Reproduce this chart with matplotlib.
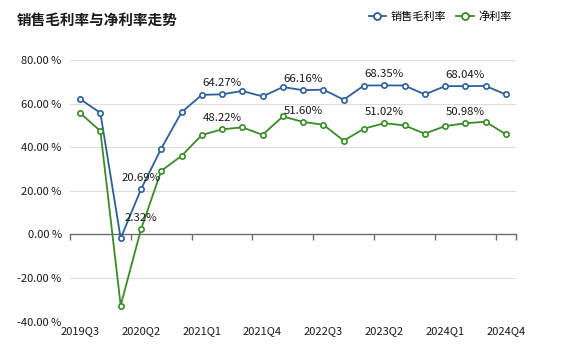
import matplotlib
matplotlib.use("Agg")
import matplotlib.pyplot as plt
from matplotlib.lines import Line2D

plt.rcParams['font.family'] = ['Noto Sans CJK SC', 'DejaVu Sans']

quarters = ['2019Q3', '2019Q4', '2020Q1', '2020Q2', '2020Q3', '2020Q4',
            '2021Q1', '2021Q2', '2021Q3', '2021Q4', '2022Q1', '2022Q2',
            '2022Q3', '2022Q4', '2023Q1', '2023Q2', '2023Q3', '2023Q4',
            '2024Q1', '2024Q2', '2024Q3', '2024Q4']
gross_margin = [62.1, 55.7, -1.8, 20.69, 39.4, 56.0, 64.0, 64.27, 65.8, 63.3, 67.6,
                66.16, 66.4, 61.8, 68.3, 68.35, 68.3, 64.2, 68.0, 68.04, 68.1, 64.2]
net_margin = [55.7, 47.4, -32.6, 2.32, 29.2, 36.0, 45.6, 48.22, 49.1, 45.7, 54.1,
              51.60, 50.3, 43.0, 48.5, 51.02, 50.0, 46.2, 49.7, 50.98, 51.7, 45.9]
label_idx = [3, 7, 11, 15, 19]
tick_idx = [0, 3, 6, 9, 12, 15, 18, 21]
y_ticks = [-40, -20, 0, 20, 40, 60, 80]

blue = '#2d5f9b'
green = '#3a8b27'

fig = plt.figure(figsize=(5.85, 3.63), dpi=100)
ax = fig.add_axes([70/585, 1 - 321.7/363, (516 - 70)/585, (321.7 - 60)/363])

x = list(range(len(quarters)))
ax.plot(x, gross_margin, color=blue, lw=1.3, marker='o', ms=3.8,
        mfc='white', mec=blue, mew=1.2, zorder=3)
ax.plot(x, net_margin, color=green, lw=1.3, marker='o', ms=3.8,
        mfc='white', mec=green, mew=1.2, zorder=3)

for i in label_idx:
    for series in (gross_margin, net_margin):
        ax.annotate(f'{series[i]:.2f}%', (i, series[i]), xytext=(0, 4.5),
                    textcoords='offset points', ha='center', va='bottom',
                    fontsize=8.2, color='#1a1a1a', zorder=4)

ax.set_xlim(-0.5, len(quarters) - 0.5)
ax.set_ylim(-40, 80)

for v in y_ticks:
    if v != 0:
        ax.axhline(v, color='#dcdcdc', lw=0.8, zorder=1)

for s in ['top', 'right', 'left']:
    ax.spines[s].set_visible(False)
ax.spines['bottom'].set_position(('data', 0))
ax.spines['bottom'].set_color('#6e6e6e')
ax.spines['bottom'].set_linewidth(1.0)
ax.spines['bottom'].set_zorder(2)

ax.set_xticks([t - 0.5 for t in tick_idx] + [len(quarters) - 0.5])
ax.set_xticklabels([])
ax.tick_params(axis='x', length=4, width=1, color='#6e6e6e', direction='out')

ax.set_yticks(y_ticks)
ax.set_yticklabels([f'{v:.2f} %' for v in y_ticks])
ax.tick_params(axis='y', length=0, pad=6, labelsize=8, labelcolor='#1a1a1a')

sec = ax.secondary_xaxis('bottom')
sec.spines['bottom'].set_visible(False)
sec.set_xticks(tick_idx)
sec.set_xticklabels([quarters[i] for i in tick_idx])
sec.tick_params(length=0, pad=3, labelsize=8, labelcolor='#1a1a1a')

fig.text(17/585, 1 - 20/363, '销售毛利率与净利率走势', fontsize=10.5,
         fontweight='bold', color='#1a1a1a', va='center', ha='left')

handles = [Line2D([], [], color=blue, lw=1.3, marker='o', ms=5, mfc='white', mec=blue, mew=1.3),
           Line2D([], [], color=green, lw=1.3, marker='o', ms=5, mfc='white', mec=green, mew=1.3)]
fig.legend(handles, ['销售毛利率', '净利率'], loc='center right',
           bbox_to_anchor=(512/585, 1 - 17/363), ncol=2, frameon=False,
           fontsize=8, handlelength=1.6, handletextpad=0.4, columnspacing=0.9,
           borderaxespad=0, borderpad=0)

fig.savefig('out.png', dpi=100, facecolor='white')
